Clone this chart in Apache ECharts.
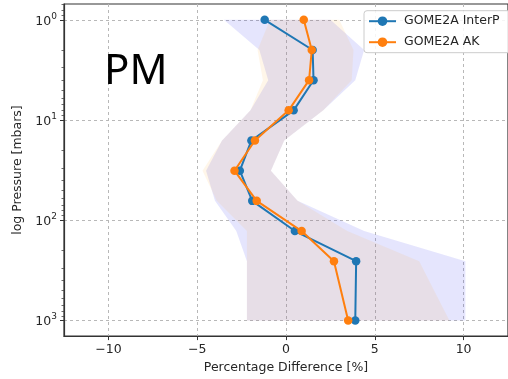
<!DOCTYPE html>
<html><head><meta charset="utf-8">
<script src="https://cdn.jsdelivr.net/npm/echarts@6/dist/echarts.min.js"></script>
<style>html,body{margin:0;padding:0;background:#fff}#c{width:508px;height:379px}</style>
</head><body><div id="c"></div>
<script>
const pressureLevels = [1, 2, 4, 8, 16, 32, 64, 128, 256, 1000];
const interpDiff = [-1.2, 1.5, 1.55, 0.43, -1.95, -2.6, -1.9, 0.5, 3.95, 3.9];
const akDiff = [1.0, 1.45, 1.3, 0.15, -1.75, -2.9, -1.65, 0.88, 2.7, 3.5];
const interpLow = [-3.5, -1.5, -1.0, -2.0, -3.6, -4.5, -4.0, -2.8, -2.2, -2.2];
const interpHigh = [2.5, 4.4, 3.9, 2.1, -0.1, -0.85, 0.65, 4.4, 10.1, 10.1];
const akLow = [-0.9, -1.6, -1.3, -2.0, -3.6, -4.7, -3.9, -2.2, -2.2, -2.2];
const akHigh = [3.0, 3.8, 3.7, 2.1, -0.1, -0.85, 0.65, 3.45, 7.5, 9.2];
const xTicks = [-10, -5, 0, 5, 10];
const yTicks = [1, 10, 100, 1000];
const yMinorTicks = [0.7, 0.8, 0.9, 2, 3, 4, 5, 6, 7, 8, 9, 20, 30, 40, 50, 60, 70, 80, 90, 200, 300, 400, 500, 600, 700, 800, 900];
const seriesNames = ['GOME2A InterP', 'GOME2A AK'];

const FONT = 'DejaVu Sans';
const TXT = '#262626';
const chart = echarts.init(document.getElementById('c'), null, {renderer: 'canvas'});

function bandSeries(low, high, fill, z) {
  return {
    type: 'custom', silent: true, z: z, clip: true,
    data: pressureLevels.map((p, i) => [low[i], high[i], p]),
    renderItem: function (params, api) {
      if (params.dataIndex !== 0) return null;
      const pts = [];
      for (let i = 0; i < pressureLevels.length; i++) pts.push(api.coord([low[i], pressureLevels[i]]));
      for (let i = pressureLevels.length - 1; i >= 0; i--) pts.push(api.coord([high[i], pressureLevels[i]]));
      return {type: 'polygon', shape: {points: pts}, style: {fill: fill, stroke: null}};
    }
  };
}

function fmtX(v) { return v < 0 ? '\u2212' + Math.abs(v) : String(v); }

chart.setOption({
  animation: false,
  backgroundColor: '#fff',
  grid: {left: 64, top: 4, right: -4.4, bottom: 40, show: true, borderColor: '#333', borderWidth: 1.2, backgroundColor: 'transparent'},
  legend: {
    orient: 'vertical', left: 364, top: 10.7,
    itemWidth: 27, itemHeight: 12, itemGap: 8,
    padding: [4, 11, 4, 4],
    backgroundColor: 'rgba(255,255,255,0.85)', borderColor: '#cccccc', borderWidth: 1, borderRadius: 3,
    textStyle: {fontSize: 12.5, color: TXT, fontFamily: FONT, padding: [0, 0, 0, 3]},
    data: seriesNames
  },
  graphic: [{
    type: 'text', left: 104, top: 51, z: 10,
    style: {text: 'PM', font: '42px "Noto Sans"', fill: '#000'}
  }],
  xAxis: {
    type: 'value', min: -12.5, max: 12.5, splitNumber: 5,
    name: 'Percentage Difference [%]', nameLocation: 'middle', nameGap: 24,
    nameTextStyle: {fontSize: 12.5, color: TXT, fontFamily: FONT},
    axisLine: {show: true, onZero: false, lineStyle: {color: '#333', width: 1.2}},
    axisTick: {show: true, length: 4, customValues: xTicks, lineStyle: {color: '#333'}},
    axisLabel: {customValues: xTicks, formatter: fmtX, fontSize: 12.5, color: TXT, fontFamily: FONT, margin: 7},
    splitLine: {show: true, lineStyle: {color: '#b8b8b8', type: [3, 3], width: 1}}
  },
  yAxis: [{
    type: 'log', logBase: 10, min: 0.695, max: 1430, inverse: true,
    name: 'log Pressure [mbars]', nameLocation: 'middle', nameGap: 36,
    nameTextStyle: {fontSize: 12.5, color: TXT, fontFamily: FONT},
    axisLine: {show: true, onZero: false, lineStyle: {color: '#333', width: 1.2}},
    axisTick: {show: true, length: 4, customValues: yTicks, lineStyle: {color: '#333'}},
    axisLabel: {
      customValues: yTicks, margin: 7,
      formatter: function (v) { return '{b|10}{s|' + Math.round(Math.log10(v)) + '}'; },
      rich: {
        b: {fontSize: 12.5, color: TXT, fontFamily: FONT, verticalAlign: 'bottom'},
        s: {fontSize: 9, color: TXT, fontFamily: FONT, verticalAlign: 'bottom', padding: [0, 0, 7, 0]}
      }
    },
    splitLine: {show: true, lineStyle: {color: '#b8b8b8', type: [3, 3], width: 1}}
  }, {
    type: 'log', logBase: 10, min: 0.695, max: 1430, inverse: true, position: 'left', offset: 0,
    axisLine: {show: false, onZero: false},
    axisTick: {show: true, length: 2.5, customValues: yMinorTicks, lineStyle: {color: '#444', width: 0.8}},
    axisLabel: {show: false},
    splitLine: {show: false}
  }],
  series: [
    bandSeries(interpLow, interpHigh, 'rgba(45,45,240,0.12)', 1),
    bandSeries(akLow, akHigh, 'rgba(255,170,40,0.10)', 2),
    {
      type: 'line', name: seriesNames[0], z: 3,
      data: pressureLevels.map((p, i) => [interpDiff[i], p]),
      symbol: 'circle', symbolSize: 8.5, showSymbol: true,
      lineStyle: {width: 2, color: '#1f77b4'}, itemStyle: {color: '#1f77b4'}
    },
    {
      type: 'line', name: seriesNames[1], z: 4,
      data: pressureLevels.map((p, i) => [akDiff[i], p]),
      symbol: 'circle', symbolSize: 8.5, showSymbol: true,
      lineStyle: {width: 2, color: '#ff7f0e'}, itemStyle: {color: '#ff7f0e'}
    }
  ]
});
</script>
</body></html>
